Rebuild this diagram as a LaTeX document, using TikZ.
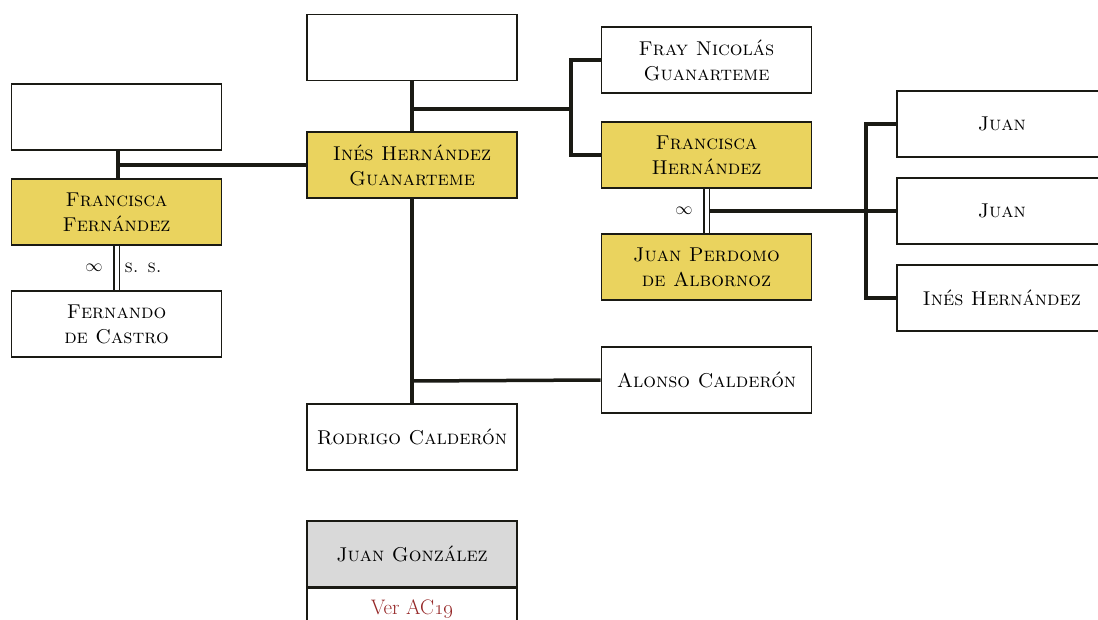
\documentclass[tikz,border=0pt]{standalone}
\begin{document}
\definecolor{gold}{RGB}{234,211,94}
\definecolor{greybox}{RGB}{217,217,217}
\definecolor{edge}{RGB}{26,26,20}
\definecolor{linkred}{RGB}{150,40,40}
\tikzset{
  person/.style={draw=edge, line width=1.6pt, fill=white, rectangle,
    minimum width=210pt, minimum height=66pt, align=center, inner sep=0pt,
    font=\fontsize{20}{25}\selectfont\scshape, text=black},
  married/.style={person, fill=gold},
  conn/.style={draw=edge, line width=3.5pt},
  wed/.style={draw=edge, line width=1.2pt, double=white, double distance=4pt},
  note/.style={font=\fontsize{18}{20}\selectfont, text=black}
}
\begin{tikzpicture}[x=1pt,y=-1pt]
\clip (0,0) rectangle (1098,620);
\fill[white] (0,0) rectangle (1098,620);

% central column
\node[person]  (top)     at (412,47.5) {};
\node[married] (ines)    at (412,165) {Inés Hernández\\Guanarteme};
\node[person]  (rodrigo) at (412,437) {Rodrigo Calderón};

% left branch
\node[person]  (lefttop) at (116.5,117) {};
\node[married] (ffern)   at (116.5,212) {Francisca\\Fernández};
\node[person]  (fcastro) at (116.5,324) {Fernando\\de Castro};

% right branch
\node[person]  (fray)     at (706.5,60)  {Fray Nicolás\\Guanarteme};
\node[married] (fhern)    at (706.5,155) {Francisca\\Hernández};
\node[married] (jperdomo) at (706.5,267) {Juan Perdomo\\de Albornoz};
\node[person]  (alonso)   at (706.5,380) {Alonso Calderón};

% children of Francisca Hernández
\node[person, anchor=west] (juana) at (896,124) {Juan};
\node[person, anchor=west] (juanb) at (896,211) {Juan};
\node[person, anchor=west] (inesb) at (896,298) {Inés Hernández};

% Juan González with reference
\node[person, fill=greybox] (jgonz) at (412,554) {Juan González};
\node[person, anchor=north, minimum height=50pt] (ver) at (jgonz.south)
  {\raisebox{14pt}{\normalfont\fontsize{21}{24}\selectfont\color{linkred}Ver AC\oldstylenums{19}}};

% connectors
\draw[conn] (top.south) -- (ines.north);
\draw[conn] (ines.south) -- (rodrigo.north);
\coordinate (sib) at (412,109);
\coordinate (sibbar) at (571,109);
\draw[conn] (sib) -- (sibbar);
\draw[conn] (fray.west) -| (sibbar);
\draw[conn] (fhern.west) -| (sibbar);
\coordinate (cald) at (412,381);
\draw[conn] (cald) -- (alonso.west);

\coordinate (lj) at (118,165);
\draw[conn] (ines.west) -- (lj);
\draw[conn] ([xshift=1.5pt]lefttop.south) -- ([xshift=1.5pt]ffern.north);

% marriages
\draw[wed] (ffern.south) -- (fcastro.north);
\node[note] (inf1) at (94,268) {$\infty$};
\node[note, anchor=west] (ss) at (121,268) {\scshape s. s.};

\draw[wed] (fhern.south) -- (jperdomo.north);
\node[note] (inf2) at (684,211) {$\infty$};
\coordinate (wedmid) at (709,211);
\coordinate (kids) at (866,211);
\draw[conn] (wedmid) -- (kids);
\draw[conn] (juana.west) -| (kids);
\draw[conn] (inesb.west) -| (kids);
\draw[conn] (juanb.west) -- (kids);
\end{tikzpicture}
\end{document}
